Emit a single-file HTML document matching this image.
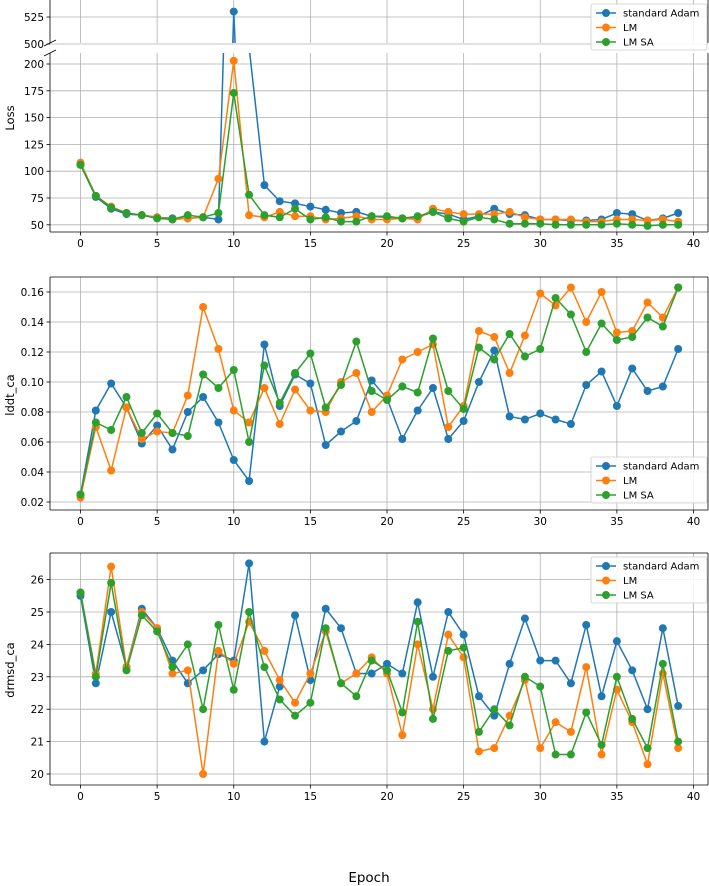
<!DOCTYPE html>
<html><head><meta charset="utf-8"><style>
body{margin:0;background:#fff}
svg{display:block;font-family:"DejaVu Sans","Liberation Sans",sans-serif}
</style></head><body>
<svg id="c" width="709" height="886" viewBox="0 0 709 886"></svg>
<script>
const epochs = Array.from({length:40},(_,i)=>i);
const lossAdam = [106,76,65,60,59,57,56,56,57,55,530,216,87,72,70,67,64,61,62,58,57,56,57,62,60,55,58,65,60,59,55,55,54,54,55,61,60,54,56,61];
const lossLM = [108,77,67,61,59,57,55,56,57,93,203,59,57,62,58,58,55,56,58,55,55,56,55,65,62,60,60,60,62,57,55,55,55,53,53,55,55,54,55,53];
const lossSA = [106,77,66,61,59,56,55,59,57,61,173,78,59,57,65,55,57,53,53,58,58,56,58,62,56,53,57,55,51,51,51,50,50,50,50,51,50,49,50,50];
const lddtAdam = [.025,.081,.099,.083,.059,.071,.055,.080,.090,.073,.048,.034,.125,.084,.105,.099,.058,.067,.074,.101,.089,.062,.081,.096,.062,.074,.100,.121,.077,.075,.079,.075,.072,.098,.107,.084,.109,.094,.097,.122];
const lddtLM = [.023,.070,.041,.083,.062,.067,.066,.091,.150,.122,.081,.073,.096,.072,.095,.081,.080,.100,.106,.080,.091,.115,.120,.125,.070,.084,.134,.130,.106,.131,.159,.151,.163,.140,.160,.133,.134,.153,.143,.163];
const lddtSA = [.025,.073,.068,.090,.066,.079,.066,.064,.105,.096,.108,.060,.111,.086,.106,.119,.083,.098,.127,.094,.088,.097,.093,.129,.094,.082,.123,.115,.132,.117,.122,.156,.145,.120,.139,.128,.130,.143,.137,.163];
const drmsdAdam = [25.5,22.8,25.0,23.3,25.1,24.5,23.5,22.8,23.2,23.7,23.5,26.5,21.0,22.7,24.9,22.9,25.1,24.5,23.1,23.1,23.4,23.1,25.3,23.0,25.0,24.3,22.4,21.8,23.4,24.8,23.5,23.5,22.8,24.6,22.4,24.1,23.2,22.0,24.5,22.1];
const drmsdLM = [25.6,23.1,26.4,23.3,25.0,24.5,23.1,23.2,20.0,23.8,23.4,24.7,23.8,22.9,22.2,23.1,24.4,22.8,23.1,23.6,23.1,21.2,24.0,22.0,24.3,23.6,20.7,20.8,21.8,22.9,20.8,21.6,21.3,23.3,20.6,22.6,21.6,20.3,23.1,20.8];
const drmsdSA = [25.6,23.0,25.9,23.2,24.9,24.4,23.3,24.0,22.0,24.6,22.6,25.0,23.3,22.3,21.8,22.2,24.5,22.8,22.4,23.5,23.2,21.9,24.7,21.7,23.8,23.9,21.3,22.0,21.5,23.0,22.7,20.6,20.6,21.9,20.9,23.0,21.7,20.8,23.4,21.0];
const xTicks = [0,5,10,15,20,25,30,35,40];
const lossUpperTicks = [500,525];
const lossLowerTicks = [50,75,100,125,150,175,200];
const lddtTicks = [0.02,0.04,0.06,0.08,0.10,0.12,0.14,0.16];
const drmsdTicks = [20,21,22,23,24,25,26];
const seriesNames = ["standard Adam","LM","LM SA"];
const colors = ["#1f77b4","#ff7f0e","#2ca02c"];

const svg = document.getElementById('c');
const NS = "http://www.w3.org/2000/svg";
function el(tag, attrs, parent){const e=document.createElementNS(NS,tag);for(const k in attrs)e.setAttribute(k,attrs[k]);(parent||svg).appendChild(e);return e;}
const L=50,R=708;
const xs = v => 80.5 + v*(693.5-80.5)/40;

function panel(name, top, bottom, yfun, ticks, fmt, data, opts){
  const g = el('g',{});
  
  
  const clipId = name+'-clip';
  const cp = el('clipPath',{id:clipId},g); el('rect',{x:L,y:top,width:R-L,height:bottom-top},cp);
  xTicks.forEach(t=>{ el('line',{x1:xs(t),x2:xs(t),y1:top,y2:bottom,stroke:'#b0b0b0','stroke-width':0.8},g); });
  ticks.forEach(t=>{ const y=yfun(t); el('line',{x1:L,x2:R,y1:y,y2:y,stroke:'#b0b0b0','stroke-width':0.8},g);
    el('line',{x1:L-3.5,x2:L,y1:y,y2:y,stroke:'#000','stroke-width':0.8},g);
    const tx=el('text',{x:L-6,y:y+4,'text-anchor':'end','font-size':10.5,fill:'#000'},g); tx.textContent=fmt(t);
    
     });
  const dg = el('g',{'clip-path':'url(#'+clipId+')'},g);
  data.forEach((s,si)=>{
    const pts = s.map((v,i)=>xs(epochs[i])+','+yfun(v)).join(' ');
    const pl = el('polyline',{points:pts,fill:'none',stroke:colors[si],'stroke-width':1.5},dg);
    
    
    s.forEach((v,i)=>{ const c=el('circle',{cx:xs(epochs[i]),cy:yfun(v),r:4,fill:colors[si]},dg);
      
       });
  });
  const sides = opts.sides;
  if(sides.includes('t')) el('line',{x1:L,x2:R,y1:top,y2:top,stroke:'#000','stroke-width':0.8},g);
  if(sides.includes('b')) el('line',{x1:L,x2:R,y1:bottom,y2:bottom,stroke:'#000','stroke-width':0.8},g);
  el('line',{x1:L,x2:L,y1:top,y2:bottom,stroke:'#000','stroke-width':0.8},g);
  el('line',{x1:R,x2:R,y1:top,y2:bottom,stroke:'#000','stroke-width':0.8},g);
  if(opts.xlabels){ xTicks.forEach(t=>{ el('line',{x1:xs(t),x2:xs(t),y1:bottom,y2:bottom+3.5,stroke:'#000','stroke-width':0.8},g);
    const tx=el('text',{x:xs(t),y:bottom+15,'text-anchor':'middle','font-size':10.5},g); tx.textContent=t;
    
     }); }
  return g;
}
function legend(name, x, y){
  const g=el('g',{});
  
  
  el('rect',{x:x,y:y,width:116,height:46,rx:2,fill:'#fff','fill-opacity':0.85,stroke:'#ccc','stroke-width':0.8},g);
  seriesNames.forEach((n,i)=>{ const yy=y+9+i*14.5;
    el('line',{x1:x+5,x2:x+25,y1:yy,y2:yy,stroke:colors[i],'stroke-width':1.5},g);
    el('circle',{cx:x+15,cy:yy,r:4,fill:colors[i]},g);
    const t=el('text',{x:x+32,y:yy+3.5,'font-size':10},g); t.textContent=n;
    
     });
}
function ylabel(txt, x, y, name){ const t=el('text',{x:x,y:y,'font-size':11.5,'text-anchor':'middle',transform:`rotate(-90 ${x} ${y})`}); t.textContent=txt;
  
   }

const yUp = v => 44 - (v-500)*27/25;
const yLo = v => 64 + (200-v)*26.8/25;
panel('loss-upper',-2,43,yUp,lossUpperTicks,t=>t,[lossAdam,lossLM,lossSA],{sides:'t'});
panel('loss-lower',53,232,yLo,lossLowerTicks,t=>t,[lossAdam,lossLM,lossSA],{sides:'b',xlabels:true});
el('line',{x1:L-6,y1:46,x2:L+6,y2:40,stroke:'#000','stroke-width':0.8});
el('line',{x1:L-6,y1:56,x2:L+6,y2:50,stroke:'#000','stroke-width':0.8});
legend('loss-legend',591,4);
ylabel('Loss',14,118,'loss-y-axis-title');

const yL = v => 292 + (0.16-v)*1500;
panel('lddt-panel',277,510,yL,lddtTicks,t=>t.toFixed(2),[lddtAdam,lddtLM,lddtSA],{sides:'tb',xlabels:true});
legend('lddt-legend',591,457);
ylabel('lddt_ca',14,395,'lddt-y-axis-title');

const yD = v => 612 + (25-v)*32.4;
panel('drmsd-panel',553,785,yD,drmsdTicks,t=>t,[drmsdAdam,drmsdLM,drmsdSA],{sides:'tb',xlabels:true});
legend('drmsd-legend',591,557);
ylabel('drmsd_ca',14,670,'drmsd-y-axis-title');

const xl=el('text',{x:369,y:882,'font-size':13.5,'text-anchor':'middle'}); xl.textContent='Epoch';


</script>
</body></html>
